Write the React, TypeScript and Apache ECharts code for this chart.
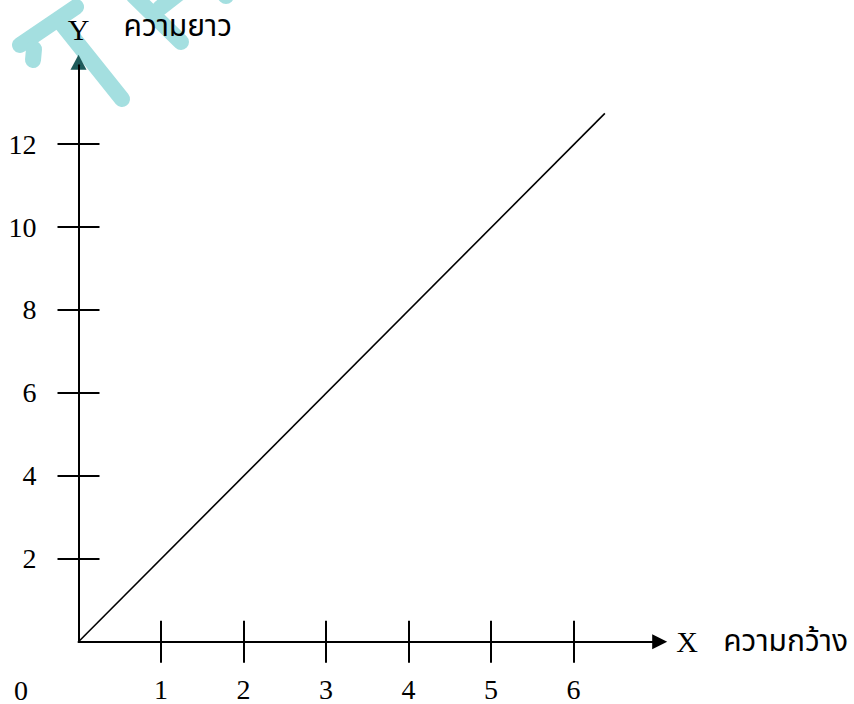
import React, { useEffect, useRef } from "react";
import * as echarts from "echarts";

// ---- data ----
const xTickValues = [1, 2, 3, 4, 5, 6];
const yTickValues = [2, 4, 6, 8, 10, 12];
const lineX = [0, 6.38];
const lineY = [0, 12.74];
const xAxisMax = 6.99;
const yAxisMax = 13.9;
const xName = "X";
const xNameThai = "ความกว้าง";
const yName = "Y";
const yNameThai = "ความยาว";
const originLabel = "0";

const SERIF = "'Times New Roman', 'Liberation Serif', serif";
const SANS = "Tahoma, 'Noto Sans Thai', 'Loma', sans-serif";
const TEAL = "#a4dfe0";

export default function App() {
  const ref = useRef<HTMLDivElement>(null);

  useEffect(() => {
    if (!ref.current) return;
    const chart = echarts.init(ref.current, undefined, { renderer: "svg" });

    const tickStyle = { color: "#000", width: 2 };
    const labelStyle = { fontFamily: SERIF, fontSize: 28, color: "#000" };

    const wm = (shape: any) => ({
      type: "line",
      z: -10,
      shape,
      style: { stroke: TEAL, lineWidth: 16, lineCap: "round" },
    });

    chart.setOption({
      animation: false,
      backgroundColor: "#fff",
      grid: { left: 78.5, top: 65.3, right: 198.8, bottom: 62.3, containLabel: false },
      xAxis: [
        {
          type: "value",
          min: 0,
          max: xAxisMax,
          position: "bottom",
          z: 2,
          axisLine: {
            show: true,
            onZero: false,
            symbol: ["none", "triangle"],
            symbolSize: [15, 15],
            symbolOffset: [0, 4.5],
            lineStyle: { color: "#000", width: 2 },
          },
          axisTick: { show: true, inside: false, length: 21, customValues: xTickValues, lineStyle: tickStyle },
          axisLabel: { show: true, customValues: xTickValues, margin: 34, ...labelStyle },
          splitLine: { show: false },
          name: xName,
          nameLocation: "end",
          nameGap: 21,
          nameTextStyle: { fontFamily: SERIF, fontSize: 30, color: "#000", verticalAlign: "middle" },
        },
        {
          type: "value",
          min: 0,
          max: xAxisMax,
          position: "bottom",
          z: 1,
          axisLine: { show: false, onZero: false },
          axisTick: { show: true, inside: true, length: 21, customValues: xTickValues, lineStyle: tickStyle },
          axisLabel: { show: false },
          splitLine: { show: false },
          name: xNameThai,
          nameLocation: "end",
          nameGap: 21,
          nameTextStyle: {
            fontFamily: SANS,
            fontSize: 30,
            color: "#000",
            align: "left",
            verticalAlign: "middle",
            padding: [0, 0, 0, 47],
          },
        },
      ],
      yAxis: [
        {
          type: "value",
          min: 0,
          max: yAxisMax,
          position: "left",
          z: 2,
          axisLine: { show: true, onZero: false, lineStyle: { color: "#000", width: 2 } },
          axisTick: { show: true, inside: false, length: 21, customValues: yTickValues, lineStyle: tickStyle },
          axisLabel: { show: true, customValues: yTickValues, margin: 42, align: "right", ...labelStyle },
          splitLine: { show: false },
          name: yName,
          nameLocation: "end",
          nameGap: 36,
          nameTextStyle: { fontFamily: SERIF, fontSize: 30, color: "#000", verticalAlign: "middle" },
        },
        {
          type: "value",
          min: 0,
          max: yAxisMax,
          position: "left",
          z: 1,
          axisLine: {
            show: true,
            onZero: false,
            symbol: ["none", "triangle"],
            symbolSize: [16, 15],
            symbolOffset: [0, 3],
            lineStyle: { color: "#1e5b5b", width: 1 },
          },
          axisTick: { show: true, inside: true, length: 21, customValues: yTickValues, lineStyle: tickStyle },
          axisLabel: { show: false },
          splitLine: { show: false },
          name: yNameThai,
          nameLocation: "end",
          nameGap: 38,
          nameTextStyle: {
            fontFamily: SANS,
            fontSize: 30,
            color: "#000",
            align: "left",
            verticalAlign: "middle",
            padding: [0, 0, 0, 45],
          },
        },
      ],
      graphic: [
        wm({ x1: 20, y1: 45, x2: 76, y2: 7 }),
        wm({ x1: 34, y1: 49, x2: 33, y2: 60 }),
        wm({ x1: 62, y1: 24, x2: 122, y2: 99 }),
        wm({ x1: 134, y1: -4, x2: 181, y2: 42 }),
        wm({ x1: 160, y1: 8, x2: 178, y2: -6 }),
        wm({ x1: 222, y1: -8, x2: 226, y2: -4 }),
        {
          type: "text",
          left: 14,
          top: 676,
          z: 5,
          style: { text: originLabel, font: `28px ${SERIF}`, fill: "#000" },
        },
      ],
      series: [
        {
          type: "line",
          xAxisIndex: 0,
          yAxisIndex: 0,
          data: lineX.map((x, i) => [x, lineY[i]]),
          symbol: "none",
          lineStyle: { color: "#000", width: 1.6 },
          z: 3,
        },
      ],
    });

    return () => chart.dispose();
  }, []);

  return (
    <div
      ref={ref}
      style={{ position: "fixed", left: 0, top: 0, width: 854, height: 704, background: "#fff" }}
    />
  );
}
